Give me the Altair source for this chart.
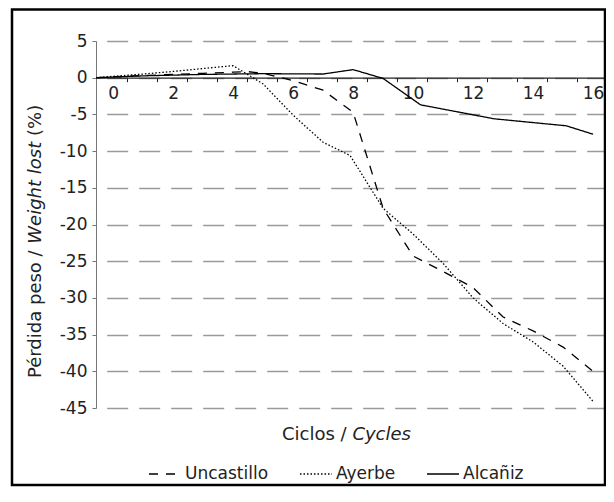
import altair as alt
import pandas as pd

# ---- data ----
series_names = ["Uncastillo", "Ayerbe", "Alcañiz"]

cycles_uncastillo = [-0.57, 1, 2, 3, 4, 4.5, 5, 6, 7, 8, 9, 10, 11, 12, 13, 14, 15, 16]
loss_uncastillo = [0, 0.3, 0.45, 0.6, 0.75, 0.82, 0.6, -0.4, -1.7, -4.7, -17.8, -24.3, -26.4, -28.6, -32.6, -34.5, -36.7, -40.0]

cycles_ayerbe = [-0.57, 1, 2, 3, 4, 5, 6, 7, 7.9, 9, 10, 11, 12, 13, 14, 15, 16]
loss_ayerbe = [0, 0.5, 0.85, 1.25, 1.64, -0.85, -5.1, -8.8, -10.6, -17.8, -21.3, -25.3, -30.0, -33.5, -36.0, -39.3, -44.1]

cycles_alcaniz = [-0.57, 1, 3, 5, 7, 8, 9, 10.25, 12.7, 15.1, 16]
loss_alcaniz = [0, 0.25, 0.45, 0.55, 0.5, 1.1, -0.1, -3.7, -5.6, -6.55, -7.7]

x_tick_values = [0, 1, 2, 3, 4, 5, 6, 7, 8, 9, 10, 11, 12, 13, 14, 15, 16]
y_tick_values = [-45, -40, -35, -30, -25, -20, -15, -10, -5, 0, 5]

x_title_plain = "Ciclos /"
x_title_italic = "Cycles"
y_title_plain = "Pérdida peso /"
y_title_italic = "Weight lost"
y_title_end = "(%)"

FONT = "DejaVu Sans"

rows = []
for name, xs, ys in [
    ("Uncastillo", cycles_uncastillo, loss_uncastillo),
    ("Ayerbe", cycles_ayerbe, loss_ayerbe),
    ("Alcañiz", cycles_alcaniz, loss_alcaniz),
]:
    for i, (cx, cy) in enumerate(zip(xs, ys)):
        rows.append({"serie": name, "ciclo": cx, "perdida": cy, "orden": i})
df = pd.DataFrame(rows)

W, H = 510, 367
x_scale = alt.Scale(domain=[-0.57, 16.43], nice=False, zero=False)
y_scale = alt.Scale(domain=[-45, 5], nice=False, zero=False)
zero_offset = H * 5 / 50 - H  # move x axis to the y = 0 line

lines = alt.Chart(df).mark_line(color="black", strokeWidth=1.3, strokeCap="butt").encode(
    x=alt.X(
        "ciclo:Q",
        scale=x_scale,
        axis=alt.Axis(
            values=x_tick_values,
            title=None,
            orient="bottom",
            offset=zero_offset,
            tickOffset=14,
            labelOffset=-14,
            labelExpr="datum.value % 2 == 0 ? '' + datum.value : ''",
            grid=False,
            domainColor="#222",
            domainWidth=1.2,
            tickColor="#222",
            tickSize=4,
            labelFont=FONT,
            labelFontSize=17,
            labelColor="#222",
            labelPadding=4,
            labelFlush=False,
            labelOverlap=False,
        ),
    ),
    y=alt.Y(
        "perdida:Q",
        scale=y_scale,
        axis=alt.Axis(
            values=y_tick_values,
            title=None,
            grid=True,
            gridDash=[21, 11],
            gridDashOffset=21.3,
            gridColor="#9a9a9a",
            gridWidth=1.3,
            domainColor="#777",
            tickColor="#777",
            tickSize=4,
            labelExpr="'' + datum.value",
            labelFont=FONT,
            labelFontSize=17,
            labelColor="#222",
            labelPadding=5,
            labelOverlap=False,
        ),
    ),
    strokeDash=alt.StrokeDash(
        "serie:N",
        scale=alt.Scale(domain=series_names, range=[[9, 8], [1.5, 2], [1, 0]]),
        legend=alt.Legend(
            title=None,
            orient="none",
            legendX=52,
            legendY=416,
            direction="horizontal",
            symbolType="stroke",
            symbolSize=1024,
            symbolStrokeWidth=1.3,
            symbolStrokeColor="black",
            labelFont=FONT,
            labelFontSize=17,
            labelColor="#222",
            labelOffset=3,
            columnPadding=28,
            padding=0,
        ),
    ),
    order="orden:Q",
)

border = alt.Chart(pd.DataFrame({"k": [0]})).mark_rect(
    fillOpacity=0, stroke="black", strokeWidth=2.5
).encode(x=alt.value(-84), x2=alt.value(509), y=alt.value(-31.5), y2=alt.value(444))


def label(text, x, y, align, angle=0, italic=False):
    mk = dict(align=align, baseline="middle", font=FONT, fontSize=18, color="#222", angle=angle)
    if italic:
        mk["fontStyle"] = "italic"
    return alt.Chart(pd.DataFrame({"t": [text]})).mark_text(**mk).encode(
        text="t:N", x=alt.value(x), y=alt.value(y)
    )


titles = [
    label(x_title_plain, 250.7, 394, "right"),
    label(x_title_italic, 256.4, 394, "left", italic=True),
    label(y_title_plain, -60, 337, "left", angle=270),
    label(y_title_italic, -60, 202.7, "left", angle=270, italic=True),
    label(y_title_end, -60, 95, "left", angle=270),
]

chart = alt.layer(border, lines, *titles).properties(
    width=W,
    height=H,
    padding={"left": 88, "top": 33, "right": 0, "bottom": 86},
    autosize=alt.AutoSizeParams(type="none"),
).configure_view(stroke=None)

chart.save("out.html", embed_options={"renderer": "svg", "actions": False})
